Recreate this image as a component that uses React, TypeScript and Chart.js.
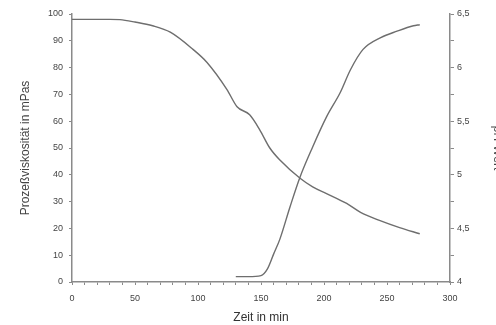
import React, { useEffect, useRef } from "react";
import { Chart, registerables } from "chart.js";
Chart.register(...registerables);

const viscTime = [0, 10, 20, 30, 38, 50, 64, 78, 96, 107, 123, 131, 141, 149, 157, 165, 181, 191, 202, 218, 229, 244, 260, 276];
const viscValues = [98, 98, 98, 98, 97.9, 97, 95.6, 93.2, 86.8, 82, 71.8, 65.4, 62.4, 56.8, 50, 45.5, 38.7, 35.5, 33, 29.3, 26, 23, 20.3, 18];

const phTime = [130, 140, 150, 155, 160, 165, 173, 181, 191, 202, 213, 221, 231, 245, 258, 271, 276];
const phValues = [4.05, 4.05, 4.06, 4.12, 4.26, 4.4, 4.7, 4.98, 5.26, 5.54, 5.77, 5.98, 6.17, 6.28, 6.34, 6.39, 6.4];

const xTitle = "Zeit in min";
const yLeftTitle = "Prozeßviskosität in mPas";
const yRightTitle = "pH-Wert";

export default function App() {
  const ref = useRef<HTMLCanvasElement | null>(null);
  useEffect(() => {
    if (!ref.current) return;
    const axisColor = "#8a8a8a";
    const textColor = "#444";
    const family = "Liberation Sans, Arial, sans-serif";
    const chart = new Chart(ref.current, {
      type: "line",
      data: {
        datasets: [
          {
            data: viscTime.map((t, i) => ({ x: t, y: viscValues[i] })),
            borderColor: "#6e6e6e",
            borderWidth: 1.4,
            pointRadius: 0,
            cubicInterpolationMode: "monotone",
            yAxisID: "y",
          },
          {
            data: phTime.map((t, i) => ({ x: t, y: phValues[i] })),
            borderColor: "#6e6e6e",
            borderWidth: 1.4,
            pointRadius: 0,
            cubicInterpolationMode: "monotone",
            yAxisID: "y2",
          },
        ],
      },
      options: {
        animation: false,
        responsive: false,
        layout: { padding: { top: 14, left: 0, right: 0, bottom: 0 } },
        plugins: { legend: { display: false }, tooltip: { enabled: false } },
        scales: {
          x: {
            type: "linear",
            min: 0,
            max: 300,
            border: { color: axisColor, width: 1.5 },
            grid: { drawOnChartArea: false, color: axisColor, tickLength: 3 },
            ticks: {
              stepSize: 10,
              autoSkip: false,
              maxRotation: 0,
              color: textColor,
              font: { family, size: 9 },
              padding: 8,
              callback: (v: any) => (Number(v) % 50 === 0 ? String(v) : ""),
            },
            title: { display: true, text: xTitle, color: "#333", font: { family, size: 12 }, padding: { top: 0, bottom: 0 } },
            afterFit: (s: any) => { s.height = 43; },
          },
          y: {
            position: "left",
            min: 0,
            max: 100,
            border: { color: axisColor, width: 1.5 },
            grid: { drawOnChartArea: false, color: axisColor, tickLength: 3 },
            ticks: { stepSize: 10, color: textColor, font: { family, size: 9 }, padding: 6 },
            title: { display: true, text: yLeftTitle, color: "#444", font: { family, size: 12 }, padding: { top: 18, bottom: 4 } },
            afterFit: (s: any) => { s.width = 72; },
          },
          y2: {
            position: "right",
            min: 4,
            max: 6.5,
            border: { color: axisColor, width: 1.5 },
            grid: { drawOnChartArea: false, color: axisColor, tickLength: 4 },
            ticks: {
              stepSize: 0.25,
              autoSkip: false,
              color: textColor,
              font: { family, size: 9 },
              padding: 3,
              callback: (v: any) => {
                const n = Number(v);
                if (Math.abs(n * 2 - Math.round(n * 2)) > 1e-6) return "";
                return String(n).replace(".", ",");
              },
            },
            title: { display: true, text: yRightTitle, color: "#444", font: { family, size: 12 }, padding: { top: 0, bottom: 0 } },
            afterFit: (s: any) => { s.width = 55; },
          },
        },
      },
    });
    return () => chart.destroy();
  }, []);
  return (
    <div style={{ position: "fixed", left: 0, top: 0, width: 496, height: 325, overflow: "hidden", background: "#fff" }}>
      <canvas ref={ref} width={505} height={325} style={{ display: "block", width: 505, height: 325 }} />
    </div>
  );
}
